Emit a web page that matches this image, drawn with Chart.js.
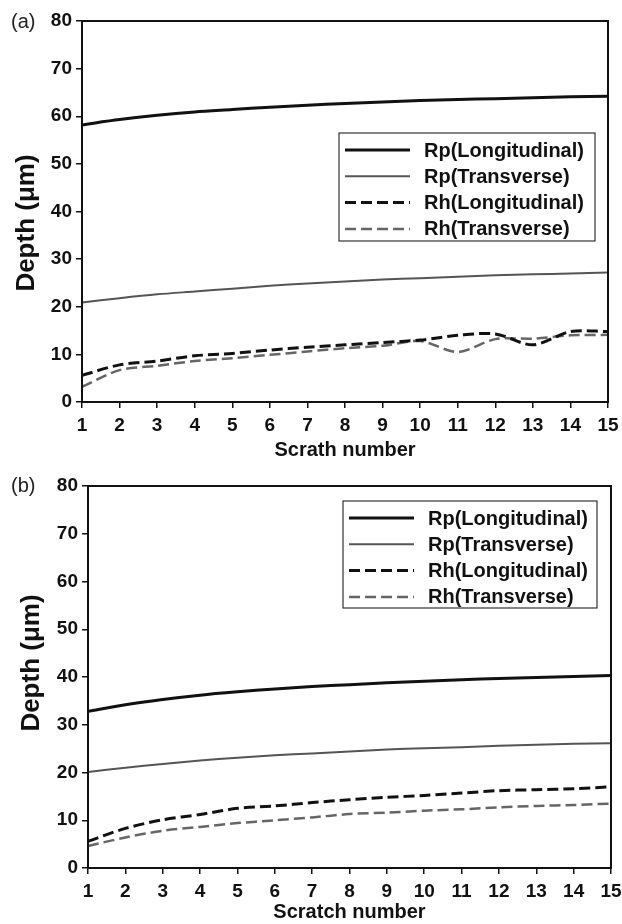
<!DOCTYPE html>
<html>
<head>
<meta charset="utf-8">
<script src="https://cdn.jsdelivr.net/npm/chart.js@4"></script>
<style>
  body { margin: 0; background: #fff; width: 622px; height: 924px; overflow: hidden; font-family: "Liberation Sans", Arial, sans-serif; }
  .panel { position: absolute; left: 0; width: 622px; height: 462px; }
  .tag { position: absolute; left: 11px; font-size: 20px; color: #222; }
</style>
</head>
<body>
<div class="panel" style="top:0"><canvas id="chartA" width="622" height="462"></canvas></div>
<div class="panel" style="top:462px"><canvas id="chartB" width="622" height="462"></canvas></div>
<div class="tag" style="top:10px">(a)</div>
<div class="tag" style="top:474px">(b)</div>
<script>
// datos
const scratchNumbers = ['1','2','3','4','5','6','7','8','9','10','11','12','13','14','15'];

// (a)
const rpLongA  = [58.2, 59.3, 60.2, 60.9, 61.4, 61.9, 62.3, 62.7, 63.0, 63.3, 63.5, 63.7, 63.9, 64.1, 64.2];
const rpTransA = [20.9, 21.8, 22.6, 23.2, 23.8, 24.4, 24.9, 25.3, 25.7, 26.0, 26.3, 26.6, 26.8, 27.0, 27.2];
const rhLongA  = [5.6, 7.8, 8.6, 9.7, 10.2, 10.9, 11.5, 12.0, 12.5, 13.0, 14.0, 14.3, 12.0, 14.8, 14.8];
const rhTransA = [3.2, 6.7, 7.6, 8.6, 9.2, 9.9, 10.6, 11.3, 11.8, 12.8, 10.5, 13.2, 13.3, 14.0, 14.1];

// (b)
const rpLongB  = [32.8, 34.2, 35.3, 36.2, 36.9, 37.5, 38.0, 38.4, 38.8, 39.1, 39.4, 39.7, 39.9, 40.1, 40.3];
const rpTransB = [20.1, 21.0, 21.8, 22.5, 23.1, 23.6, 24.0, 24.4, 24.8, 25.1, 25.3, 25.6, 25.8, 26.0, 26.1];
const rhLongB  = [5.6, 8.3, 10.1, 11.2, 12.5, 13.0, 13.7, 14.3, 14.8, 15.2, 15.7, 16.2, 16.4, 16.6, 17.0];
const rhTransB = [4.6, 6.4, 7.8, 8.6, 9.4, 10.0, 10.6, 11.3, 11.6, 12.0, 12.3, 12.7, 13.0, 13.2, 13.5];

const seriesNames = ['Rp(Longitudinal)', 'Rp(Transverse)', 'Rh(Longitudinal)', 'Rh(Transverse)'];

const FONT = '"Liberation Sans", Arial, sans-serif';

// marco del area, titulo Y y leyenda dibujada a mano
const boxPlugin = {
    id: 'boxPlugin',
    afterDraw(chart, args, opts) {
        const c = chart.ctx;
        const a = chart.chartArea;
        c.save();
        c.strokeStyle = '#111';
        c.lineWidth = 2;
        c.strokeRect(a.left, a.top, a.right - a.left, a.bottom - a.top);

        // titulo del eje Y
        c.save();
        c.translate(opts.yTitle.x, opts.yTitle.y);
        c.rotate(-Math.PI / 2);
        c.font = 'bold 26px ' + FONT;
        c.textAlign = 'center';
        c.textBaseline = 'middle';
        c.fillStyle = '#111';
        c.fillText('Depth (\u03bcm)', 0, 0);
        c.restore();

        const L = opts.legend;
        c.lineWidth = 1.2;
        c.strokeStyle = '#333';
        c.strokeRect(L.x, L.y, L.w, L.h);
        c.font = 'bold 20px ' + FONT;
        c.textBaseline = 'middle';
        c.fillStyle = '#111';
        chart.data.datasets.forEach((ds, i) => {
            const y = L.y + 17 + i * 26.3;
            c.beginPath();
            c.strokeStyle = ds.borderColor;
            c.lineWidth = ds.borderWidth;
            c.setLineDash(ds.borderDash || []);
            c.moveTo(L.x + 6, y);
            c.lineTo(L.x + 71, y);
            c.stroke();
            c.setLineDash([]);
            c.fillText(ds.label, L.x + 85, y + 1);
        });
        c.restore();
    }
};

function makeDatasets(rpLong, rpTrans, rhLong, rhTrans) {
    return [
        { label: seriesNames[0], data: rpLong,  borderColor: '#111', borderWidth: 3 },
        { label: seriesNames[1], data: rpTrans, borderColor: '#555', borderWidth: 2 },
        { label: seriesNames[2], data: rhLong,  borderColor: '#111', borderWidth: 3, borderDash: [11, 5] },
        { label: seriesNames[3], data: rhTrans, borderColor: '#666', borderWidth: 2.5, borderDash: [11, 5] }
    ].map(d => Object.assign(d, { pointRadius: 0, tension: 0.3, fill: false }));
}

function makeChart(id, datasets, xTitle, lay) {
    return new Chart(document.getElementById(id), {
        type: 'line',
        data: { labels: scratchNumbers, datasets: datasets },
        plugins: [boxPlugin],
        options: {
            responsive: false,
            animation: false,
            layout: { padding: { top: lay.top, right: lay.right, left: 0, bottom: 0 } },
            plugins: {
                legend: { display: false },
                tooltip: { enabled: false },
                boxPlugin: { legend: lay.legend, yTitle: lay.yTitle }
            },
            scales: {
                x: {
                    offset: false,
                    grid: { drawOnChartArea: false, tickLength: 6, color: '#111', lineWidth: 1.5 },
                    border: { color: '#111', width: 2 },
                    ticks: { color: '#111', font: { family: FONT, size: 19, weight: 'bold' }, padding: 6, maxRotation: 0, autoSkip: false },
                    title: { display: true, text: xTitle, color: '#111', font: { family: FONT, size: 20, weight: 'bold' }, padding: { top: 0, bottom: 0 } },
                    afterFit: s => { s.height = lay.xHeight; s.paddingRight = 0; s.paddingLeft = 0; }
                },
                y: {
                    min: 0, max: 80,
                    grid: { drawOnChartArea: false, tickLength: 6, color: '#111', lineWidth: 1.5 },
                    border: { color: '#111', width: 2 },
                    ticks: { stepSize: 10, color: '#111', font: { family: FONT, size: 19, weight: 'bold' }, padding: 4 },
                    afterFit: s => { s.width = lay.yWidth; s.paddingTop = 0; s.paddingBottom = 0; }
                }
            }
        }
    });
}

makeChart('chartA', makeDatasets(rpLongA, rpTransA, rhLongA, rhTransA), 'Scrath number', {
    top: 21, right: 14, xHeight: 60, yWidth: 82,
    yTitle: { x: 27, y: 223 },
    legend: { x: 339, y: 133, w: 256, h: 108 }
});

makeChart('chartB', makeDatasets(rpLongB, rpTransB, rhLongB, rhTransB), 'Scratch number', {
    top: 24, right: 11, xHeight: 56, yWidth: 88,
    yTitle: { x: 32, y: 201 },
    legend: { x: 343, y: 39, w: 254, h: 107 }
});
</script>
</body>
</html>
